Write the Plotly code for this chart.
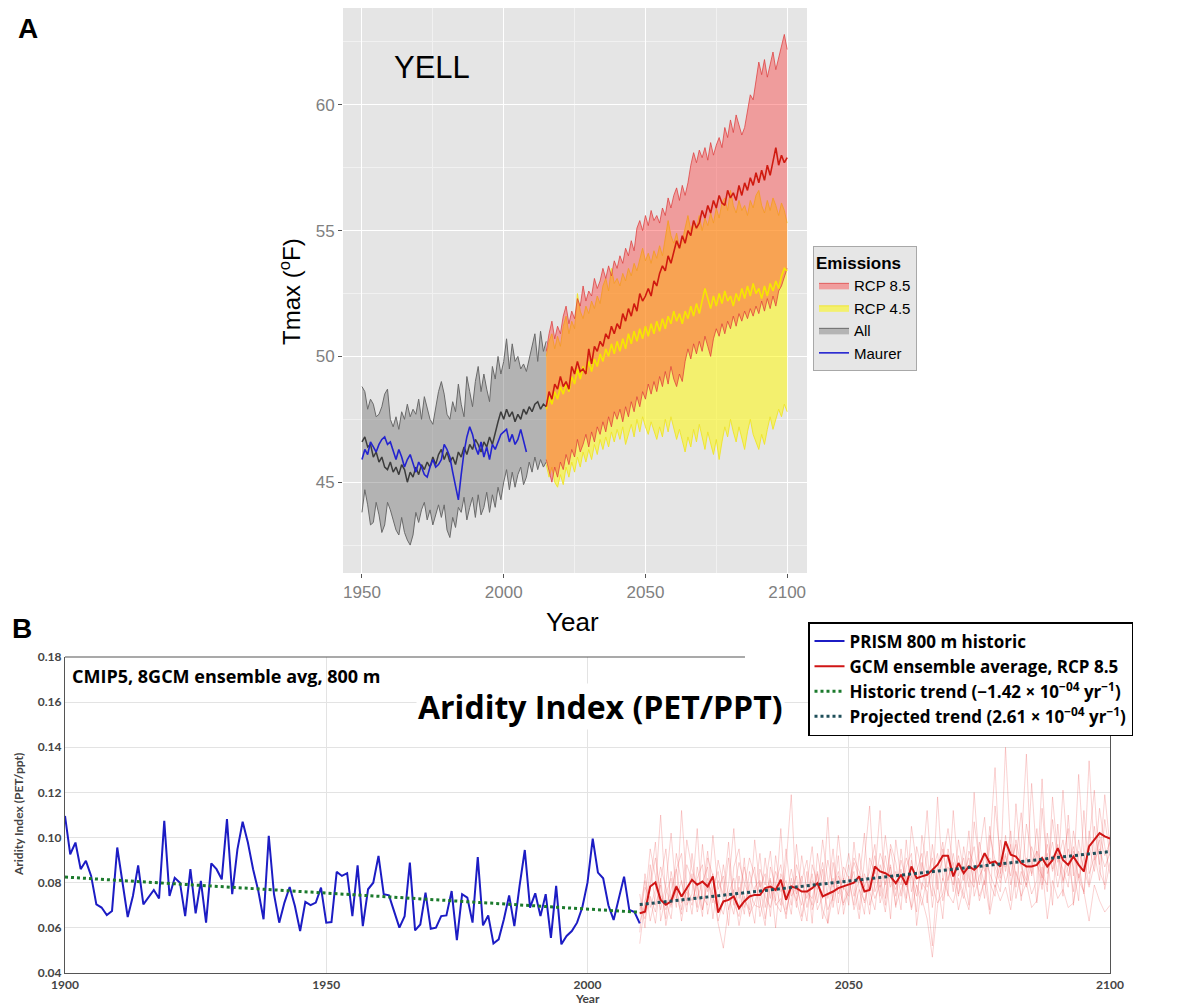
import plotly.graph_objects as go

# ---------------- Panel A data (Tmax, deg F) ----------------
hist_years = list(range(1950, 2016))
hist_upper = [48.8, 48.6, 47.9, 48.3, 48.1, 47.6, 47.7, 48.0, 48.5, 48.7,
              47.5, 47.2, 47.6, 47.1, 47.8, 47.5, 48.1, 47.6, 47.9, 47.7,
              48.3, 47.5, 48.4, 48.0, 47.5, 47.3, 47.9, 48.6, 49.0, 48.5,
              47.7, 47.5, 48.2, 47.8, 48.9, 48.1, 47.6, 49.2, 48.6, 48.0,
              49.0, 49.6, 48.6, 49.3, 48.7, 48.2, 49.6, 49.1, 50.0, 49.3,
              49.8, 50.7, 49.5, 50.5, 49.8, 50.0, 49.5, 49.7, 49.4, 49.9,
              50.3, 50.9, 49.8, 51.0, 50.2, 50.6]
hist_lower = [43.8, 44.7, 44.1, 43.3, 43.4, 44.2, 43.7, 43.0, 43.3, 44.2,
              43.9, 43.5, 43.1, 42.9, 43.6, 43.0, 42.7, 42.5, 42.9, 43.8,
              43.4, 43.9, 44.2, 43.5, 43.9, 43.3, 43.7, 44.1, 43.6, 44.1,
              43.1, 42.8, 43.6, 43.2, 44.0, 43.8, 44.4, 43.5, 44.0, 44.4,
              43.6, 44.5, 43.7, 44.0, 44.6, 43.8, 44.5, 44.0, 44.8, 44.3,
              45.0, 45.5, 44.7, 45.4, 44.8, 45.3, 45.6, 44.9, 45.2, 45.8,
              45.4, 46.0, 45.5, 45.9, 45.6, 45.8]
hist_mean = [46.6, 46.8, 46.4, 46.5, 46.0, 46.2, 45.8, 46.0, 45.6, 45.5,
             45.8, 45.4, 45.6, 45.3, 45.7, 45.5, 45.0, 45.4, 45.2, 45.6,
             45.3, 45.7, 45.5, 45.8, 45.6, 46.0, 45.7, 46.1, 46.3, 45.9,
             46.2, 45.8, 46.0, 45.7, 46.2, 46.0, 46.4, 46.1, 46.5, 46.3,
             46.7, 46.5, 46.2, 46.6, 46.4, 46.8, 46.5, 47.0, 47.4, 47.8,
             47.5, 47.9, 47.6, 47.8, 47.4, 47.7, 47.5, 47.9, 47.7, 48.0,
             47.8, 48.1, 48.2, 47.9, 48.1, 48.0]
maurer_years = list(range(1950, 2009))
maurer = [45.9, 46.3, 46.1, 46.6, 46.4, 46.2, 46.5, 46.7, 46.8, 46.5,
          46.6, 46.2, 45.9, 46.3, 46.0, 45.6, 45.9, 46.1, 45.7, 45.4,
          45.8, 45.6, 45.3, 45.2, 45.6, 45.9, 45.6, 45.7, 45.9, 46.5,
          46.3, 46.0, 45.4, 44.9, 44.3, 45.3, 46.2, 46.8, 47.2, 46.9,
          46.4, 46.1, 46.6, 46.0, 46.4, 45.9, 46.5, 46.3, 46.6, 46.9,
          47.0, 47.1, 46.6, 46.9, 46.5, 46.7, 47.1, 46.6, 46.2]

fut_years = list(range(2015, 2101))
rcp85_upper = [50.2, 50.9, 51.4, 50.7, 51.2, 50.9, 51.6, 52.0, 51.3, 51.8,
               51.5, 52.3, 52.0, 52.8, 52.2, 52.6, 52.4, 53.1, 52.7, 53.0,
               53.5, 53.1, 53.6, 53.2, 53.8, 53.5, 54.0, 53.7, 54.3, 54.0,
               54.6, 54.2, 55.1, 55.4, 55.0, 55.6, 55.2, 55.8, 55.4, 55.6,
               55.3, 55.9, 55.6, 56.3, 55.9, 56.4, 56.7, 56.2, 56.8, 56.4,
               56.9, 57.6, 58.1, 57.7, 58.2, 57.9, 58.3, 57.8, 58.5, 58.0,
               58.4, 58.7, 58.3, 59.1, 58.7, 59.4, 58.9, 59.6, 59.2, 58.8,
               59.1, 59.8, 60.4, 60.2, 60.9, 61.7, 61.2, 61.8, 61.1, 61.6,
               62.1, 61.4, 61.9, 62.4, 62.8, 62.2]
rcp85_lower = [45.9, 45.4, 45.0, 45.6, 45.2, 45.8, 45.5, 46.1, 45.7, 46.3,
               46.0, 46.7, 46.2, 46.5, 46.9, 46.4, 47.0, 46.6, 47.2, 46.9,
               47.4, 47.0, 47.6, 47.2, 47.8, 47.5, 47.9, 47.4, 48.0, 47.6,
               48.2, 47.8, 48.4, 48.0, 48.6, 48.3, 48.9, 48.5, 49.0, 48.6,
               49.2, 48.8, 49.4, 48.9, 49.6, 49.1, 48.8, 49.3, 49.0, 49.8,
               50.3, 49.9, 50.5, 50.1, 50.6, 50.2, 50.8, 50.4, 50.0, 50.7,
               51.1, 50.8, 51.3, 50.9, 51.4, 51.1, 51.6, 51.2, 51.7, 51.4,
               51.8, 51.5, 51.9, 51.6, 52.0, 51.7, 52.2, 51.8, 52.3, 51.9,
               52.4, 52.0, 52.6, 52.8, 53.2, 53.5]
rcp85_mean = [48.0, 48.6, 48.3, 48.9, 48.7, 49.2, 48.8, 49.0, 48.7, 49.6,
              49.3, 49.8, 49.4, 49.5, 49.3, 50.3, 49.7, 50.4, 50.2, 50.6,
              50.4, 50.9, 50.7, 51.2, 50.9, 51.3, 51.1, 51.7, 51.4, 51.9,
              51.6, 52.1, 51.8, 52.5, 52.2, 52.4, 52.7, 52.4, 53.0, 52.8,
              53.3, 53.6, 53.4, 54.0, 53.7, 54.1, 54.6, 54.3, 54.8, 54.5,
              55.0, 54.8, 55.4, 55.1, 55.3, 55.8, 55.5, 56.0, 55.7, 56.2,
              55.9, 56.4, 56.1, 56.0, 56.6, 56.3, 56.5, 56.2, 56.8, 56.4,
              56.9, 56.6, 57.1, 56.8, 57.3, 56.9, 57.4, 57.0, 57.6, 57.2,
              57.8, 58.3, 57.6, 58.0, 57.7, 57.9]
rcp45_upper = [50.0, 50.6, 50.9, 50.3, 50.8, 50.4, 51.2, 51.6, 50.9, 51.4,
               51.1, 52.5, 51.8, 51.5, 52.0, 51.7, 52.2, 51.9, 52.4, 52.1,
               52.8, 53.1, 52.6, 53.5, 52.9, 53.1, 52.8, 53.3, 53.0, 53.5,
               53.2, 53.7, 53.4, 53.9, 54.3, 53.8, 54.1, 53.7, 54.2, 53.9,
               54.4, 54.0, 54.7, 55.4, 54.8, 54.5, 54.9, 54.3, 54.6, 55.1,
               55.6, 55.0, 55.4, 55.1, 55.6, 55.0, 55.5, 55.2, 55.7, 55.3,
               55.9, 55.5, 56.1, 56.3, 55.8, 56.6, 56.0, 55.7, 56.2, 55.8,
               56.0, 55.6, 56.2, 55.9, 56.4, 56.6, 56.0, 55.7, 56.2, 55.8,
               56.3, 56.0, 55.6, 56.1, 55.8, 55.3]
rcp45_lower = [45.7, 45.2, 45.6, 45.0, 44.8, 45.3, 44.9, 45.6, 45.2, 45.8,
               45.4, 46.0, 45.6, 46.2, 45.8, 46.3, 45.9, 46.5, 46.1, 46.7,
               46.3, 46.8, 46.4, 47.0, 46.6, 47.1, 46.7, 47.2, 46.5, 46.9,
               47.3, 46.8, 47.5, 47.0, 47.6, 47.2, 46.9, 47.4, 47.0, 46.7,
               47.2, 46.8, 47.5, 47.0, 47.6, 47.1, 46.7, 47.1, 46.6, 46.2,
               46.8, 46.4, 47.1, 46.6, 47.3, 46.8, 46.3, 47.0, 46.5, 46.1,
               46.7, 45.9, 46.6, 47.2, 46.8, 47.5, 47.0, 46.6, 47.2, 46.7,
               46.3, 47.0, 47.5, 46.9, 46.6, 46.3, 46.9, 46.5, 47.1, 47.6,
               47.1, 47.5, 47.9, 47.6, 48.1, 47.8]
rcp45_mean = [47.9, 48.4, 48.1, 48.6, 48.3, 48.8, 48.5, 48.9, 48.6, 49.2,
              48.9, 49.5, 49.1, 49.6, 49.3, 49.8, 49.4, 49.9, 49.6, 50.1,
              49.8, 50.3, 50.0, 50.5, 50.1, 50.6, 50.2, 50.7, 50.3, 50.9,
              50.5, 51.0, 50.6, 51.1, 50.7, 51.2, 50.8, 51.3, 50.9, 51.4,
              51.0, 51.5, 51.1, 51.6, 51.3, 51.8, 51.4, 51.7, 51.3, 51.8,
              51.5, 52.0, 51.6, 52.1, 51.7, 52.2, 52.7, 52.3, 51.9, 52.4,
              52.0, 52.5, 52.1, 52.6, 52.2, 52.4, 52.0, 52.5, 52.2, 52.7,
              52.3, 52.8, 52.4, 52.9, 52.5, 52.7, 52.3, 52.8, 52.4, 52.9,
              52.6, 53.0, 52.7, 53.2, 53.5, 53.4]

a_xticks = [1950, 2000, 2050, 2100]
a_yticks = [45, 50, 55, 60]

# ---------------- Panel B data (Aridity index) ----------------
prism_years = list(range(1900, 2011))
prism = [0.1096, 0.0926, 0.0978, 0.0860, 0.0897, 0.0830, 0.0704, 0.0690, 0.0657, 0.0675,
         0.0956, 0.0793, 0.0648, 0.0741, 0.0877, 0.0704, 0.0734, 0.0768, 0.0730, 0.1074,
         0.0741, 0.0822, 0.0800, 0.0652, 0.0860, 0.0664, 0.0808, 0.0623, 0.0886, 0.0860,
         0.0815, 0.1082, 0.0749, 0.0948, 0.1070, 0.0978, 0.0860, 0.0763, 0.0638, 0.1008,
         0.0749, 0.0623, 0.0712, 0.0781, 0.0697, 0.0586, 0.0715, 0.0701, 0.0712, 0.0778,
         0.0623, 0.0626, 0.0848, 0.0830, 0.0842, 0.0652, 0.0877, 0.0608, 0.0771, 0.0800,
         0.0919, 0.0749, 0.0744, 0.0675, 0.0601, 0.0652, 0.0889, 0.0589, 0.0615, 0.0756,
         0.0596, 0.0601, 0.0652, 0.0655, 0.0763, 0.0546, 0.0749, 0.0734, 0.0623, 0.0914,
         0.0611, 0.0655, 0.0531, 0.0549, 0.0638, 0.0744, 0.0608, 0.0786, 0.0945, 0.0690,
         0.0753, 0.0652, 0.0749, 0.0556, 0.0786, 0.0527, 0.0564, 0.0586, 0.0623, 0.0690,
         0.0800, 0.0995, 0.0845, 0.0820, 0.0700, 0.0635, 0.0730, 0.0827, 0.0680, 0.0670,
         0.0620]

gcm_years = list(range(2010, 2101))
ens_mean = [0.0665, 0.0672, 0.0783, 0.0801, 0.0724, 0.0702, 0.0717, 0.0783, 0.0739, 0.0776,
            0.0813, 0.0791, 0.0805, 0.0783, 0.0828, 0.0668, 0.0717, 0.0724, 0.0739, 0.0687,
            0.0717, 0.0739, 0.0746, 0.0746, 0.0776, 0.0783, 0.0768, 0.0813, 0.0724, 0.0783,
            0.0776, 0.0761, 0.0761, 0.0776, 0.0798, 0.0739, 0.0750, 0.0761, 0.0776, 0.0783,
            0.0791, 0.0800, 0.0828, 0.0761, 0.0768, 0.0872, 0.0850, 0.0842, 0.0828, 0.0798,
            0.0835, 0.0791, 0.0872, 0.0820, 0.0828, 0.0835, 0.0857, 0.0880, 0.0919, 0.0919,
            0.0828, 0.0887, 0.0842, 0.0872, 0.0857, 0.0879, 0.0931, 0.0887, 0.0894, 0.0872,
            0.0983, 0.0924, 0.0916, 0.0887, 0.0872, 0.0872, 0.0879, 0.0909, 0.0872, 0.0900,
            0.0953, 0.0901, 0.0879, 0.0916, 0.0879, 0.0850, 0.0961, 0.0990, 0.1020, 0.1005,
            0.0995]

gcm1 = [0.062, 0.071, 0.095, 0.083, 0.068, 0.079, 0.102, 0.074, 0.066, 0.088,
        0.081, 0.069, 0.097, 0.076, 0.084, 0.063, 0.072, 0.091, 0.070, 0.078,
        0.066, 0.085, 0.074, 0.093, 0.069, 0.081, 0.072, 0.104, 0.068, 0.077,
        0.083, 0.065, 0.079, 0.096, 0.071, 0.086, 0.062, 0.089, 0.075, 0.082,
        0.070, 0.098, 0.077, 0.066, 0.091, 0.084, 0.112, 0.073, 0.088, 0.069,
        0.095, 0.078, 0.083, 0.067, 0.101, 0.086, 0.074, 0.118, 0.081, 0.092,
        0.076, 0.099, 0.085, 0.070, 0.107, 0.089, 0.079, 0.096, 0.131, 0.084,
        0.093, 0.072, 0.115, 0.088, 0.081, 0.124, 0.090, 0.077, 0.102, 0.086,
        0.097, 0.074, 0.110, 0.083, 0.128, 0.092, 0.079, 0.105, 0.088, 0.119, 0.096]
gcm2 = [0.058, 0.084, 0.069, 0.077, 0.110, 0.072, 0.064, 0.086, 0.093, 0.070,
        0.075, 0.104, 0.068, 0.082, 0.071, 0.090, 0.079, 0.061, 0.087, 0.095,
        0.073, 0.068, 0.099, 0.078, 0.084, 0.065, 0.092, 0.076, 0.081, 0.070,
        0.097, 0.074, 0.063, 0.088, 0.080, 0.073, 0.109, 0.069, 0.083, 0.077,
        0.088, 0.074, 0.081, 0.102, 0.070, 0.079, 0.093, 0.086, 0.064, 0.099,
        0.082, 0.071, 0.105, 0.088, 0.077, 0.094, 0.069, 0.086, 0.098, 0.074,
        0.112, 0.083, 0.091, 0.078, 0.120, 0.087, 0.073, 0.101, 0.090, 0.082,
        0.140, 0.095, 0.084, 0.079, 0.106, 0.092, 0.071, 0.113, 0.087, 0.098,
        0.083, 0.121, 0.090, 0.076, 0.099, 0.085, 0.134, 0.093, 0.081, 0.108, 0.092]
gcm3 = [0.071, 0.066, 0.080, 0.098, 0.063, 0.075, 0.082, 0.069, 0.112, 0.078,
        0.066, 0.087, 0.074, 0.070, 0.101, 0.077, 0.083, 0.068, 0.076, 0.089,
        0.080, 0.074, 0.062, 0.086, 0.079, 0.094, 0.071, 0.067, 0.088, 0.119,
        0.072, 0.081, 0.090, 0.068, 0.076, 0.099, 0.081, 0.072, 0.092, 0.066,
        0.079, 0.085, 0.068, 0.090, 0.114, 0.076, 0.083, 0.070, 0.097, 0.089,
        0.074, 0.087, 0.093, 0.061, 0.080, 0.076, 0.052, 0.083, 0.090, 0.104,
        0.087, 0.074, 0.096, 0.082, 0.078, 0.093, 0.109, 0.080, 0.074, 0.099,
        0.085, 0.103, 0.078, 0.096, 0.137, 0.083, 0.094, 0.089, 0.076, 0.118,
        0.092, 0.086, 0.078, 0.103, 0.089, 0.075, 0.098, 0.121, 0.085, 0.079, 0.101]
gcm4 = [0.066, 0.078, 0.073, 0.062, 0.081, 0.095, 0.070, 0.077, 0.068, 0.099,
        0.086, 0.078, 0.065, 0.091, 0.083, 0.072, 0.066, 0.079, 0.104, 0.073,
        0.087, 0.076, 0.070, 0.069, 0.091, 0.073, 0.085, 0.078, 0.064, 0.082,
        0.069, 0.092, 0.076, 0.073, 0.085, 0.064, 0.077, 0.095, 0.071, 0.087,
        0.082, 0.070, 0.093, 0.078, 0.085, 0.097, 0.071, 0.080, 0.087, 0.074,
        0.090, 0.081, 0.069, 0.096, 0.085, 0.112, 0.079, 0.071, 0.075, 0.087,
        0.079, 0.092, 0.081, 0.103, 0.074, 0.083, 0.088, 0.068, 0.114, 0.092,
        0.080, 0.088, 0.097, 0.072, 0.091, 0.084, 0.104, 0.079, 0.093, 0.070,
        0.106, 0.080, 0.095, 0.087, 0.072, 0.112, 0.084, 0.091, 0.099, 0.077, 0.089]
gcm5 = [0.075, 0.060, 0.088, 0.070, 0.079, 0.064, 0.085, 0.073, 0.081, 0.067,
        0.093, 0.073, 0.080, 0.087, 0.064, 0.081, 0.075, 0.098, 0.071, 0.065,
        0.078, 0.091, 0.083, 0.072, 0.061, 0.087, 0.079, 0.070, 0.095, 0.074,
        0.078, 0.070, 0.085, 0.062, 0.093, 0.079, 0.068, 0.074, 0.101, 0.081,
        0.093, 0.079, 0.064, 0.084, 0.076, 0.068, 0.088, 0.079, 0.095, 0.081,
        0.068, 0.099, 0.076, 0.085, 0.093, 0.071, 0.097, 0.080, 0.064, 0.095,
        0.084, 0.068, 0.078, 0.094, 0.088, 0.072, 0.081, 0.105, 0.083, 0.076,
        0.101, 0.079, 0.090, 0.111, 0.086, 0.075, 0.081, 0.126, 0.084, 0.092,
        0.078, 0.091, 0.104, 0.070, 0.094, 0.086, 0.078, 0.088, 0.113, 0.096, 0.084]
gcm6 = [0.053, 0.072, 0.078, 0.091, 0.075, 0.068, 0.077, 0.086, 0.071, 0.076,
        0.070, 0.082, 0.088, 0.066, 0.078, 0.085, 0.071, 0.075, 0.082, 0.068,
        0.091, 0.065, 0.078, 0.081, 0.074, 0.069, 0.080, 0.088, 0.073, 0.086,
        0.075, 0.083, 0.069, 0.081, 0.077, 0.089, 0.073, 0.082, 0.066, 0.078,
        0.074, 0.089, 0.082, 0.071, 0.080, 0.092, 0.078, 0.101, 0.083, 0.077,
        0.086, 0.073, 0.090, 0.078, 0.070, 0.083, 0.091, 0.077, 0.095, 0.081,
        0.093, 0.080, 0.073, 0.087, 0.096, 0.079, 0.092, 0.084, 0.078, 0.089,
        0.087, 0.097, 0.073, 0.085, 0.079, 0.096, 0.088, 0.083, 0.079, 0.108,
        0.089, 0.099, 0.083, 0.094, 0.081, 0.076, 0.103, 0.090, 0.095, 0.087, 0.093]
gcm7 = [0.068, 0.081, 0.063, 0.074, 0.087, 0.078, 0.069, 0.093, 0.080, 0.072,
        0.084, 0.067, 0.076, 0.094, 0.073, 0.069, 0.088, 0.074, 0.066, 0.083,
        0.069, 0.079, 0.087, 0.065, 0.075, 0.082, 0.060, 0.084, 0.077, 0.066,
        0.088, 0.079, 0.073, 0.084, 0.068, 0.074, 0.090, 0.078, 0.085, 0.071,
        0.076, 0.091, 0.085, 0.079, 0.066, 0.087, 0.074, 0.092, 0.078, 0.085,
        0.079, 0.091, 0.084, 0.074, 0.089, 0.078, 0.085, 0.093, 0.072, 0.082,
        0.089, 0.075, 0.084, 0.091, 0.080, 0.098, 0.085, 0.091, 0.087, 0.080,
        0.092, 0.083, 0.099, 0.087, 0.078, 0.089, 0.094, 0.082, 0.097, 0.085,
        0.093, 0.081, 0.087, 0.096, 0.082, 0.091, 0.097, 0.085, 0.101, 0.092, 0.098]
gcm8 = [0.070, 0.064, 0.074, 0.067, 0.082, 0.061, 0.074, 0.079, 0.063, 0.078,
        0.072, 0.079, 0.068, 0.080, 0.075, 0.062, 0.051, 0.069, 0.077, 0.061,
        0.074, 0.066, 0.071, 0.080, 0.064, 0.078, 0.070, 0.073, 0.066, 0.079,
        0.072, 0.063, 0.077, 0.070, 0.084, 0.068, 0.062, 0.075, 0.079, 0.070,
        0.083, 0.068, 0.077, 0.072, 0.081, 0.073, 0.079, 0.067, 0.084, 0.070,
        0.077, 0.083, 0.068, 0.079, 0.073, 0.064, 0.047, 0.070, 0.082, 0.075,
        0.071, 0.082, 0.075, 0.068, 0.087, 0.074, 0.081, 0.066, 0.079, 0.072,
        0.078, 0.068, 0.085, 0.074, 0.080, 0.069, 0.072, 0.087, 0.064, 0.081,
        0.073, 0.077, 0.069, 0.071, 0.084, 0.076, 0.063, 0.079, 0.072, 0.067, 0.070]
gcm_runs = [gcm1, gcm2, gcm3, gcm4, gcm5, gcm6, gcm7, gcm8]

hist_trend_years = [1900, 2010]
hist_trend = [0.0825, 0.0669]
proj_trend_years = [2010, 2100]
proj_trend = [0.0703, 0.0938]

b_xticks = [1900, 1950, 2000, 2050, 2100]
b_yticks = [0.04, 0.06, 0.08, 0.10, 0.12, 0.14, 0.16, 0.18]

for arr, yrs in [(hist_upper, hist_years), (hist_lower, hist_years), (hist_mean, hist_years),
                 (maurer, maurer_years), (rcp85_upper, fut_years), (rcp85_lower, fut_years),
                 (rcp85_mean, fut_years), (rcp45_upper, fut_years), (rcp45_lower, fut_years),
                 (rcp45_mean, fut_years), (prism, prism_years), (ens_mean, gcm_years)] + \
                [(g, gcm_years) for g in gcm_runs]:
    assert len(arr) == len(yrs), (len(arr), len(yrs))

# ---------------- Figure ----------------
W, H = 1201, 1005
OFF = 8  # default page body margin in the browser

fig = go.Figure()

def band(x, lo, hi, name, fill, edge, rank):
    fig.add_trace(go.Scatter(x=x, y=lo, mode="lines", line=dict(color=edge, width=1),
                             showlegend=False, hoverinfo="skip", xaxis="x", yaxis="y"))
    fig.add_trace(go.Scatter(x=x, y=hi, mode="lines", line=dict(color=edge, width=1),
                             fill="tonexty", fillcolor=fill, name=name, legend="legend",
                             legendrank=rank, xaxis="x", yaxis="y"))

band(hist_years, hist_lower, hist_upper, "All", "rgba(105,105,105,0.40)", "#6a6a6a", 3)
band(fut_years, rcp45_lower, rcp45_upper, "RCP 4.5", "rgba(255,250,0,0.52)", "rgba(238,228,40,0.9)", 2)
band(fut_years, rcp85_lower, rcp85_upper, "RCP 8.5", "rgba(255,40,40,0.39)", "rgba(222,60,60,0.75)", 1)

fig.add_trace(go.Scatter(x=hist_years, y=hist_mean, mode="lines", line=dict(color="#3c3c3c", width=1.5),
                         showlegend=False, xaxis="x", yaxis="y"))
fig.add_trace(go.Scatter(x=maurer_years, y=maurer, mode="lines", line=dict(color="#2323d0", width=1.6),
                         name="Maurer", legend="legend", legendrank=4, xaxis="x", yaxis="y"))
fig.add_trace(go.Scatter(x=fut_years, y=rcp45_mean, mode="lines", line=dict(color="#f5e600", width=1.6),
                         showlegend=False, xaxis="x", yaxis="y"))
fig.add_trace(go.Scatter(x=fut_years, y=rcp85_mean, mode="lines", line=dict(color="#d01a10", width=1.6),
                         showlegend=False, xaxis="x", yaxis="y"))

# Panel B traces
for g in gcm_runs:
    fig.add_trace(go.Scatter(x=gcm_years, y=g, mode="lines", line=dict(color="rgba(236,95,95,0.28)", width=1),
                             showlegend=False, hoverinfo="skip", xaxis="x2", yaxis="y2"))
fig.add_trace(go.Scatter(x=prism_years, y=prism, mode="lines", line=dict(color="#1c1cc4", width=2),
                         name="PRISM 800 m historic", legend="legend2", xaxis="x2", yaxis="y2"))
fig.add_trace(go.Scatter(x=gcm_years, y=ens_mean, mode="lines", line=dict(color="#d01515", width=2),
                         name="GCM ensemble average, RCP 8.5", legend="legend2", xaxis="x2", yaxis="y2"))
fig.add_trace(go.Scatter(x=hist_trend_years, y=hist_trend, mode="lines",
                         line=dict(color="#1b7a2c", width=3, dash="dot"),
                         name="Historic trend (\u22121.42 \u00d7 10<sup>\u221204</sup> yr<sup>\u22121</sup>)",
                         legend="legend2", xaxis="x2", yaxis="y2"))
fig.add_trace(go.Scatter(x=proj_trend_years, y=proj_trend, mode="lines",
                         line=dict(color="#1f4f5a", width=3, dash="dot"),
                         name="Projected trend (2.61 \u00d7 10<sup>\u221204</sup> yr<sup>\u22121</sup>)",
                         legend="legend2", xaxis="x2", yaxis="y2"))

def px(v):
    return min(max((v - OFF) / W, 0.0), 1.0)

def py(v):
    return min(max(1 - (v - OFF) / H, 0.0), 1.0)

sansA = "Liberation Sans, Arial, sans-serif"
sansB = "Lato, Open Sans, sans-serif"
sansT = "Open Sans, Lato, sans-serif"

def note(text, x, y, size, family, xanchor="center", angle=0, color="black", weight="normal", bg=None):
    d = dict(text=text, x=px(x), y=py(y), xref="paper", yref="paper", showarrow=False,
             xanchor=xanchor, yanchor="middle", textangle=angle,
             font=dict(size=size, family=family, color=color, weight=weight))
    if bg:
        d["bgcolor"] = bg
    return d

fig.update_layout(
    width=W, height=H,
    margin=dict(l=0, r=0, t=0, b=0, pad=0, autoexpand=False),
    paper_bgcolor="white", plot_bgcolor="white",
    font=dict(family=sansA, color="black"),
    xaxis=dict(domain=[px(343), px(807)], range=[1943.3, 2107], anchor="y", automargin=False,
               tickvals=a_xticks, ticks="outside", ticklen=4, tickcolor="#555",
               tickfont=dict(size=17, color="#808080", family=sansA),
               showgrid=True, gridcolor="white", gridwidth=1.3, zeroline=False, showline=False,
               minor=dict(tickvals=[1975, 2025, 2075], showgrid=True, gridcolor="#F1F1F1",
                          gridwidth=0.7, ticks="")),
    yaxis=dict(domain=[py(573), py(7)], range=[41.39, 63.85], anchor="x", automargin=False,
               tickvals=a_yticks, ticks="outside", ticklen=4, tickcolor="#555",
               tickfont=dict(size=17, color="#808080", family=sansA),
               showgrid=True, gridcolor="white", gridwidth=1.3, zeroline=False, showline=False,
               minor=dict(tickvals=[42.5, 47.5, 52.5, 57.5, 62.5], showgrid=True, gridcolor="#F1F1F1",
                          gridwidth=0.7, ticks="")),
    xaxis2=dict(domain=[px(65), px(1110)], range=[1900, 2100], anchor="y2", automargin=False,
                tickvals=b_xticks, ticks="", tickfont=dict(size=12, color="#444", family=sansB, weight="bold"),
                showgrid=True, gridcolor="#E3E3E3", gridwidth=1, zeroline=False,
                showline=True, linecolor="#555", linewidth=1.2, mirror=False),
    yaxis2=dict(domain=[py(973), py(657)], range=[0.04, 0.18], anchor="x2", automargin=False,
                tickvals=b_yticks, tickformat=".2f", ticks="",
                tickfont=dict(size=12, color="#444", family=sansB, weight="bold"),
                showgrid=True, gridcolor="#E3E3E3", gridwidth=1, zeroline=False,
                showline=True, linecolor="#555", linewidth=1.2, mirror=True),
    legend=dict(x=px(813), y=py(246), xanchor="left", yanchor="top",
                bgcolor="#E6E6E6", bordercolor="#A8A8A8", borderwidth=1,
                title=dict(text="<b>Emissions</b>", font=dict(size=17, family=sansA)),
                font=dict(size=15, family=sansA, color="black"),
                tracegroupgap=0, itemwidth=30, traceorder="normal"),
    legend2=dict(x=px(808), y=py(622), xanchor="left", yanchor="top",
                 bgcolor="white", bordercolor="black", borderwidth=1.5,
                 font=dict(size=17, family=sansT, color="black", weight="bold"),
                 tracegroupgap=0, itemwidth=30, traceorder="normal"),
    shapes=[
        dict(type="rect", xref="x domain", yref="y domain", x0=0, x1=1, y0=0, y1=1,
             fillcolor="#E5E5E5", line=dict(width=0), layer="below"),
        dict(type="line", xref="x2 domain", yref="y2 domain", x0=0, x1=0.6507, y0=1, y1=1,
             line=dict(color="#555", width=1.2)),
    ],
    annotations=[
        note("<b>A</b>", 28, 28, 28, sansA),
        note("<b>B</b>", 22, 628, 28, sansA),
        note("YELL", 432, 68, 31, "Liberation Sans Narrow, Arial Narrow, sans-serif"),
        note("Year", 572, 622, 26, sansA),
        note("Tmax (<sup>o</sup>F)", 290, 292, 24, sansA, angle=-90),
        note("CMIP5, 8GCM ensemble avg, 800 m", 70, 676, 18, sansT, xanchor="left", weight="bold"),
        note("Aridity Index (PET/PPT)", 600, 706, 32, sansT, weight="bold", bg="white"),
        note("Year", 587, 998, 12, sansB, color="#444", weight="bold"),
        note("Aridity Index (PET/ppt)", 18, 815, 12, sansB, angle=-90, color="#444", weight="bold"),
    ],
)

fig.write_html("out.html")
